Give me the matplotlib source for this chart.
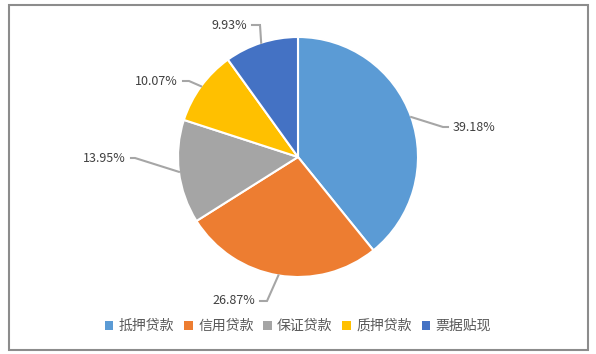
import numpy as np
import matplotlib
matplotlib.use("Agg")
import matplotlib.pyplot as plt
from matplotlib.patches import Patch, Rectangle

plt.rcParams['font.family'] = ['Noto Sans CJK SC', 'DejaVu Sans']

categories = ['抵押贷款', '信用贷款', '保证贷款', '质押贷款', '票据贴现']
shares = [39.18, 26.87, 13.95, 10.07, 9.93]
colors = ['#5B9BD5', '#ED7D31', '#A5A5A5', '#FFC000', '#4472C4']

# label text anchor (pixels in the 596x354 image) and which side the text sits
label_px = [(453, 127, 'left'), (255, 301, 'right'), (126, 158, 'right'),
            (178, 81, 'right'), (247, 25, 'right')]
elbow_px = [(443, 127), (267, 301), (135, 158), (189, 81), (260, 25)]

W, H = 596, 354
cx, cy, r = 298, 157, 120

fig = plt.figure(figsize=(W / 100, H / 100), dpi=100)
ax = fig.add_axes([(cx - r) / W, (H - cy - r) / H, 2 * r / W, 2 * r / H])

wedges, _ = ax.pie(shares, colors=colors, startangle=90, counterclock=False,
                   radius=1, wedgeprops=dict(edgecolor='white', linewidth=1.5))
ax.set_xlim(-1, 1)
ax.set_ylim(-1, 1)
ax.set_aspect('equal')
ax.axis('off')


def to_data(px, py):
    return (px - cx) / r, (cy - py) / r


for w, val, (lx, ly, side), (ex, ey) in zip(wedges, shares, label_px, elbow_px):
    mid = np.deg2rad((w.theta1 + w.theta2) / 2)
    x0, y0 = np.cos(mid), np.sin(mid)
    x1, y1 = to_data(ex, ey)
    x2, y2 = to_data(lx + (-5 if side == 'left' else 5), ly)
    ax.plot([x0, x1, x2], [y0, y1, y2], color='#A6A6A6', lw=1.5,
            clip_on=False, solid_joinstyle='miter')
    tx, ty = to_data(lx, ly)
    ax.text(tx, ty, f'{val:.2f}%', ha=side, va='center', fontsize=9,
            color='#404040')

handles = [Patch(facecolor=c, edgecolor='none') for c in colors]
fig.legend(handles, categories, loc='center', bbox_to_anchor=(0.5, 1 - 326 / H),
           ncol=5, frameon=False, fontsize=10, handlelength=0.6,
           handleheight=0.6, handletextpad=0.4, columnspacing=0.7,
           labelcolor='#595959')

fig.patches.append(Rectangle((9 / W, 4 / H), 579 / W, 345 / H,
                             transform=fig.transFigure, fill=False,
                             edgecolor='#8C8C8C', linewidth=1.5))

fig.savefig('out.png', dpi=100)
